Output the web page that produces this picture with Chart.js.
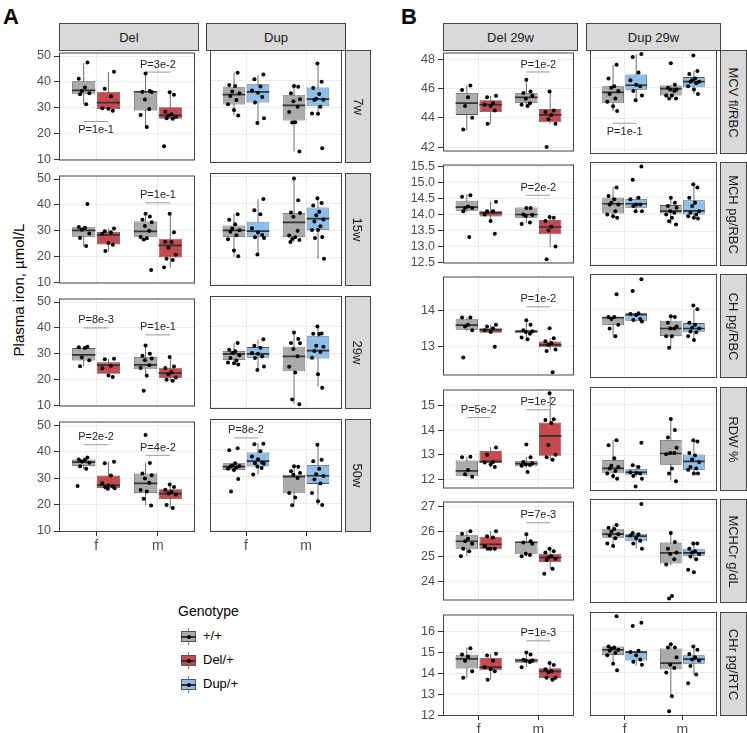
<!DOCTYPE html>
<html>
<head>
<meta charset="utf-8">
<script src="https://cdn.jsdelivr.net/npm/chart.js@4.4.1/dist/chart.umd.min.js"></script>
<style>
body { margin: 0; background: #fff; width: 747px; height: 733px; overflow: hidden; position: relative;
       font-family: 'Liberation Sans', Arial, sans-serif; }
.strip { position: absolute; background: #d9d9d9; border: 1px solid #444; box-sizing: border-box; color: #1a1a1a;
         font-size: 13px; display: flex; align-items: center; justify-content: center; white-space: nowrap; }
.strip.side span { transform: rotate(90deg); }
.tag { position: absolute; font-weight: bold; font-size: 22px; color: #000; }
.txt { position: absolute; color: #000; white-space: nowrap; }
</style>
</head>
<body>
<div class="tag" style="left:3px;top:4px">A</div>
<div class="tag" style="left:401px;top:4px">B</div>
<div class="txt" style="left:18px;top:290px;font-size:15px;transform:translate(-50%,-50%) rotate(-90deg)">Plasma iron, µmol/L</div>
<div class="txt" style="left:178px;top:603px;font-size:14px">Genotype</div>

<script>
Chart.defaults.font.family = "'Liberation Sans', Arial, sans-serif";

const SEX = ['f', 'm'];
const GENO = ['+/+', 'Del/+', 'Dup/+'];
const FILL = { '+/+': '#ababab', 'Del/+': '#c5494e', 'Dup/+': '#8cbfe9' };

// panel A: plasma iron
const A_ROWS = ['7w', '15w', '29w', '50w'];
const A_COLS = ['Del', 'Dup'];
const A_TICKS = [10, 20, 30, 40, 50];
const A_YLIM = [9.63, 51.37];

// panel B: red cell indices at 29w
const B_ROWS = ['MCV fl/RBC', 'MCH pg/RBC', 'CH pg/RBC', 'RDW %', 'MCHCr g/dL', 'CHr pg/RTC'];
const B_COLS = ['Del 29w', 'Dup 29w'];
const B_TICKS = [[42, 44, 46, 48], [12.5, 13, 13.5, 14, 14.5, 15, 15.5], [13, 14], [12, 13, 14, 15], [24, 25, 26, 27], [12, 13, 14, 15, 16]];
const B_DEC = [0, 1, 0, 0, 0, 0];
const B_YLIM = [[41.7, 48.46], [12.47, 15.56], [12.21, 14.92], [11.62, 15.67], [23.23, 27.19], [11.98, 16.8]];

// boxes: [lower whisker, q1, median, q3, upper whisker], order f +/+, f mut, m +/+, m mut
const ironDel7wBox = [[31.4, 35.2, 36.7, 40.3, 47.3], [28.9, 29.5, 32.0, 36.2, 43.8], [22.7, 29.0, 36.2, 36.5, 43.4], [25.8, 25.8, 27.1, 30.2, 36.3]];
const ironDel7wPts = [[47.5, 41.2, 37.8, 36.5, 35.6, 35.2, 31.4], [43.9, 37.4, 34.5, 29.8, 29.6, 28.9], [43.3, 36.5, 36.2, 36.1, 33.2, 29.5, 27.2, 22.6], [36.0, 35.0, 28.5, 27.5, 27.0, 26.5, 26.0, 25.8, 15.1]];
const ironDel7wP = [[1, 24.7, 'P=1e-1', 'below'], [2, 43.8, 'P=3e-2', 'above']];
const ironDup7wBox = [[27.2, 31.2, 34.9, 37.6, 43.0], [24.4, 32.0, 35.9, 38.7, 42.1], [13.9, 25.3, 30.9, 34.7, 38.2], [27.9, 30.6, 33.2, 37.5, 46.4]];
const ironDup7wPts = [[43.0, 38.4, 38.1, 36.0, 35.4, 34.4, 32.9, 31.3, 29.2, 27.2], [42.3, 40.6, 37.9, 36.4, 35.6, 34.0, 32.0, 26.2, 24.4], [38.1, 37.8, 35.4, 33.2, 32.4, 30.4, 28.5, 24.7, 24.6, 13.9], [46.4, 39.6, 37.3, 35.1, 33.4, 33.0, 32.9, 30.4, 27.9, 27.8, 15.1]];
const ironDup7wP = [];

const ironDel15wBox = [[24.0, 27.7, 30.2, 31.4, 31.5], [22.0, 24.7, 28.4, 29.6, 30.9], [26.3, 27.7, 29.8, 33.6, 36.7], [15.8, 19.7, 24.4, 26.9, 36.7]];
const ironDel15wPts = [[40.4, 31.5, 31.2, 30.4, 29.0, 27.2, 24.1], [30.9, 29.8, 29.4, 28.9, 25.3, 24.6, 22.2], [36.6, 35.5, 34.3, 33.3, 31.9, 30.0, 27.6, 27.1, 26.6, 14.8], [36.6, 29.4, 25.8, 25.7, 23.4, 20.7, 19.2, 18.7, 15.8]];
const ironDel15wP = [[2, 40.8, 'P=1e-1', 'above']];
const ironDup15wBox = [[20.4, 27.7, 30.2, 32.0, 36.3], [21.3, 27.8, 29.9, 33.4, 41.7], [25.8, 27.7, 33.1, 36.6, 49.3], [19.7, 30.3, 34.5, 38.6, 42.0]];
const ironDup15wPts = [[36.1, 34.1, 32.4, 30.9, 30.2, 29.7, 28.4, 26.9, 22.7, 20.6], [41.8, 37.6, 36.1, 31.0, 29.4, 28.5, 27.6, 27.4, 21.3], [49.3, 41.3, 36.8, 36.6, 35.2, 30.0, 28.3, 27.6, 27.0, 26.6, 25.9], [42.0, 40.3, 39.4, 37.1, 35.8, 34.2, 33.5, 31.7, 30.3, 30.3, 27.7, 27.4, 19.7]];
const ironDup15wP = [];

const ironDel29wBox = [[25.2, 27.4, 29.6, 32.2, 32.7], [20.9, 22.3, 25.6, 26.7, 28.1], [21.5, 24.0, 25.7, 28.8, 33.2], [19.4, 20.6, 22.5, 24.6, 29.0]];
const ironDel29wPts = [[32.7, 32.5, 32.2, 28.6, 27.5, 25.2], [28.1, 27.9, 25.4, 24.4, 21.6, 21.0], [33.2, 30.0, 29.2, 28.2, 27.5, 25.6, 24.5, 21.5, 15.7], [28.8, 25.1, 24.5, 22.9, 22.0, 20.8, 20.0, 19.6]];
const ironDel29wP = [[1, 40.0, 'P=8e-3', 'above'], [2, 37.3, 'P=1e-1', 'above']];
const ironDup29wBox = [[26.0, 27.7, 30.0, 31.1, 34.0], [24.0, 28.6, 30.0, 32.5, 35.4], [11.4, 23.6, 29.1, 32.6, 37.9], [17.9, 28.3, 31.2, 36.5, 40.1]];
const ironDup29wPts = [[34.0, 31.5, 31.0, 30.3, 29.5, 28.5, 27.5, 26.8, 26.5, 26.1], [35.4, 33.0, 32.3, 30.3, 30.0, 29.0, 28.5, 25.3, 24.0], [37.9, 35.5, 34.0, 33.9, 31.8, 29.1, 25.2, 23.1, 13.1, 11.4], [40.1, 37.5, 37.4, 37.3, 33.0, 32.6, 31.1, 30.7, 28.6, 22.5, 17.5]];
const ironDup29wP = [];

const ironDel50wBox = [[33.5, 34.5, 36.0, 37.0, 37.8], [26.0, 26.2, 27.3, 31.0, 36.2], [19.6, 24.3, 28.0, 31.7, 35.7], [18.7, 22.1, 24.1, 25.8, 27.6]];
const ironDel50wPts = [[37.8, 37.0, 36.8, 36.3, 35.8, 34.5, 33.5, 27.0], [36.2, 35.6, 31.0, 28.0, 27.2, 26.8, 26.5, 26.2, 26.0], [46.3, 35.7, 31.7, 31.1, 29.8, 28.2, 25.5, 24.9, 22.2, 19.6], [27.6, 26.6, 25.6, 24.8, 24.2, 23.8, 19.8, 18.7]];
const ironDel50wP = [[1, 42.6, 'P=2e-2', 'above'], [2, 38.6, 'P=4e-2', 'above']];
const ironDup50wBox = [[32.5, 32.5, 33.8, 35.0, 35.0], [30.8, 33.8, 35.8, 39.0, 42.5], [19.5, 23.9, 30.1, 30.8, 33.9], [19.6, 27.4, 30.4, 34.4, 41.9]];
const ironDup50wPts = [[40.6, 39.8, 35.0, 34.2, 34.0, 33.8, 33.5, 33.0, 32.5, 29.2, 24.6], [42.2, 42.0, 39.5, 37.5, 36.5, 35.3, 35.0, 34.8, 33.8, 33.3, 30.9], [33.9, 33.7, 32.1, 31.4, 30.8, 29.6, 24.0, 22.4, 19.5], [41.9, 36.3, 35.8, 33.0, 31.0, 30.3, 29.0, 27.5, 24.0, 21.0, 19.6]];
const ironDup50wP = [[1, 44.4, 'P=8e-2', 'above']];

const mcvDelBox = [[43.15, 44.2, 45.0, 45.7, 46.2], [43.6, 44.4, 44.9, 45.2, 45.5], [44.8, 45.0, 45.4, 45.7, 46.6], [43.6, 43.7, 44.2, 44.6, 45.8]];
const mcvDelPts = [[46.2, 45.9, 45.4, 44.8, 44.0, 43.2], [45.5, 45.4, 45.0, 44.9, 44.8, 44.5, 43.6], [46.6, 45.8, 45.7, 45.5, 45.3, 45.0, 44.9, 44.8], [45.8, 44.5, 44.4, 44.2, 43.9, 43.6, 42.0]];
const mcvDelP = [[2, 47.13, 'P=1e-2', 'above']];
const mcvDupBox = [[44.5, 45.0, 45.7, 46.1, 47.5], [45.2, 45.87, 46.17, 46.87, 48.2], [45.28, 45.5, 45.95, 46.15, 46.2], [45.6, 46.04, 46.4, 46.7, 47.1]];
const mcvDupPts = [[47.5, 46.6, 46.1, 46.0, 45.8, 45.6, 45.3, 45.1, 44.8, 44.5], [48.2, 48.0, 47.0, 46.5, 46.2, 46.1, 45.8, 45.5, 45.2], [47.6, 46.2, 46.0, 45.9, 45.9, 45.8, 45.5, 45.5, 45.3, 45.3], [48.1, 47.1, 46.9, 46.6, 46.5, 46.4, 46.4, 46.3, 46.1, 45.9, 45.6]];
const mcvDupP = [[1, 43.7, 'P=1e-1', 'below']];

const mchDelBox = [[14.08, 14.12, 14.23, 14.43, 14.63], [13.79, 13.94, 14.05, 14.12, 14.41], [13.73, 13.9, 14.0, 14.22, 14.22], [12.98, 13.38, 13.61, 13.83, 13.92]];
const mchDelPts = [[14.6, 14.55, 14.25, 14.2, 14.2, 14.1, 13.3], [14.4, 14.1, 14.1, 14.0, 13.8, 13.4], [14.2, 14.2, 14.0, 13.98, 13.95, 13.75, 13.7], [13.92, 13.9, 13.8, 13.62, 13.5, 13.0, 12.6]];
const mchDelP = [[2, 14.6, 'P=2e-2', 'above']];
const mchDupBox = [[13.88, 14.03, 14.32, 14.5, 14.82], [14.1, 14.2, 14.32, 14.46, 14.52], [13.71, 14.03, 14.1, 14.28, 14.53], [13.88, 14.0, 14.11, 14.42, 14.91]];
const mchDupPts = [[14.8, 14.55, 14.45, 14.35, 14.3, 14.3, 14.1, 14.0, 13.95, 13.9], [15.43, 15.03, 14.5, 14.45, 14.3, 14.3, 14.25, 14.1, 14.1], [14.5, 14.35, 14.25, 14.2, 14.1, 14.05, 14.0, 13.9, 13.8, 13.7], [14.9, 14.8, 14.5, 14.35, 14.25, 14.1, 14.05, 14.0, 13.95, 13.9, 13.88]];
const mchDupP = [];

const chDelBox = [[13.42, 13.46, 13.59, 13.75, 13.8], [13.38, 13.38, 13.46, 13.5, 13.6], [13.2, 13.38, 13.42, 13.45, 13.72], [12.92, 12.98, 13.05, 13.14, 13.23]];
const chDelPts = [[13.8, 13.8, 13.6, 13.55, 13.45, 12.7], [13.6, 13.55, 13.5, 13.45, 13.4, 13.0], [13.72, 13.6, 13.45, 13.42, 13.4, 13.35, 13.25, 13.2], [13.5, 13.23, 13.15, 13.1, 13.05, 12.92, 12.88, 12.3]];
const chDelP = [[2, 14.09, 'P=1e-2', 'above']];
const chDupBox = [[13.3, 13.59, 13.78, 13.81, 13.81], [13.68, 13.7, 13.86, 13.9, 13.9], [13.0, 13.3, 13.5, 13.7, 13.82], [13.2, 13.4, 13.5, 13.64, 14.0]];
const chDupPts = [[14.39, 13.8, 13.8, 13.75, 13.6, 13.5, 13.3], [14.78, 14.48, 13.9, 13.88, 13.85, 13.75, 13.72, 13.68], [13.82, 13.8, 13.65, 13.55, 13.5, 13.5, 13.3, 13.3, 13.0], [14.1, 14.0, 13.65, 13.6, 13.52, 13.5, 13.42, 13.4, 13.3, 13.2]];
const chDupP = [];

const rdwDelBox = [[12.08, 12.12, 12.34, 12.77, 12.92], [12.48, 12.66, 12.73, 13.16, 13.32], [12.47, 12.53, 12.64, 12.75, 12.92], [12.79, 12.96, 13.77, 14.32, 15.52]];
const rdwDelPts = [[12.92, 12.9, 12.38, 12.2, 12.1], [13.3, 13.0, 12.7, 12.68, 12.6, 12.5], [13.42, 12.9, 12.7, 12.65, 12.6, 12.58, 12.55, 12.3], [15.52, 14.45, 14.42, 14.3, 13.4, 13.0, 12.9, 12.8]];
const rdwDelP = [[1, 14.52, 'P=5e-2', 'above'], [2, 14.84, 'P=1e-2', 'above']];
const rdwDupBox = [[12.08, 12.31, 12.5, 12.83, 13.61], [12.18, 12.23, 12.35, 12.47, 12.64], [12.03, 12.64, 13.08, 13.61, 14.42], [12.29, 12.44, 12.77, 13.04, 13.61]];
const rdwDupPts = [[13.6, 13.4, 12.9, 12.6, 12.55, 12.5, 12.4, 12.3, 12.2, 12.1], [13.5, 12.62, 12.55, 12.35, 12.32, 12.3, 12.2, 12.1, 11.8], [14.42, 14.0, 13.7, 13.3, 13.1, 13.1, 13.05, 12.5, 12.3, 12.0], [13.6, 13.55, 13.1, 13.0, 12.85, 12.75, 12.55, 12.5, 12.45, 12.3, 12.3]];
const rdwDupP = [];

const mchcrDelBox = [[25.0, 25.28, 25.6, 25.84, 26.0], [25.28, 25.28, 25.48, 25.78, 26.0], [25.0, 25.08, 25.56, 25.58, 25.87], [24.48, 24.77, 24.95, 25.1, 25.3]];
const mchcrDelPts = [[26.0, 25.9, 25.7, 25.6, 25.5, 25.3, 25.2, 25.0], [26.0, 25.8, 25.75, 25.4, 25.3, 25.3, 25.3], [25.88, 25.6, 25.55, 25.5, 25.1, 25.05, 25.0], [25.3, 25.2, 25.15, 25.0, 24.95, 24.9, 24.85, 24.5, 24.3]];
const mchcrDelP = [[2, 26.34, 'P=7e-3', 'above']];
const mchcrDupBox = [[25.37, 25.71, 25.85, 26.06, 26.21], [25.3, 25.58, 25.78, 25.87, 25.9], [24.67, 24.73, 25.14, 25.53, 25.9], [24.9, 25.03, 25.14, 25.3, 25.5]];
const mchcrDupPts = [[26.2, 26.1, 26.05, 25.95, 25.85, 25.8, 25.7, 25.5, 25.4], [27.0, 25.9, 25.85, 25.8, 25.7, 25.6, 25.5, 25.3], [25.9, 25.55, 25.3, 25.15, 25.1, 24.9, 24.7, 23.5, 23.4], [25.5, 25.5, 25.3, 25.2, 25.15, 25.1, 25.0, 24.9, 24.5, 24.4]];
const mchcrDupP = [];

const chrDelBox = [[13.78, 14.23, 14.69, 14.89, 15.23], [13.7, 14.15, 14.3, 14.74, 14.94], [14.3, 14.51, 14.62, 14.71, 15.02], [13.7, 13.78, 14.1, 14.25, 14.55]];
const chrDelPts = [[15.2, 14.9, 14.8, 14.6, 14.1, 13.8], [14.94, 14.85, 14.6, 14.3, 14.2, 14.1, 13.7], [15.0, 14.9, 14.65, 14.62, 14.6, 14.55, 14.3], [14.5, 14.4, 14.2, 14.1, 14.05, 13.8, 13.8, 13.7]];
const chrDelP = [[2, 15.55, 'P=1e-3', 'above']];
const chrDupBox = [[14.4, 14.8, 15.05, 15.2, 15.2], [14.32, 14.55, 14.94, 14.97, 14.97], [12.9, 14.15, 14.43, 15.11, 15.3], [13.9, 14.4, 14.62, 14.8, 15.2]];
const chrDupPts = [[16.6, 15.2, 15.15, 15.1, 15.05, 15.0, 14.9, 14.8, 14.4, 14.1], [16.3, 16.15, 15.0, 14.95, 14.8, 14.6, 14.5, 14.35], [15.3, 15.15, 15.15, 14.7, 14.35, 14.2, 14.0, 12.9, 12.2], [15.2, 15.05, 14.85, 14.7, 14.6, 14.55, 14.3, 13.9, 13.5]];
const chrDupP = [];

const A_PANELS = [
    [[ironDel7wBox, ironDel7wPts, ironDel7wP], [ironDup7wBox, ironDup7wPts, ironDup7wP]],
    [[ironDel15wBox, ironDel15wPts, ironDel15wP], [ironDup15wBox, ironDup15wPts, ironDup15wP]],
    [[ironDel29wBox, ironDel29wPts, ironDel29wP], [ironDup29wBox, ironDup29wPts, ironDup29wP]],
    [[ironDel50wBox, ironDel50wPts, ironDel50wP], [ironDup50wBox, ironDup50wPts, ironDup50wP]]
];
const B_PANELS = [
    [[mcvDelBox, mcvDelPts, mcvDelP], [mcvDupBox, mcvDupPts, mcvDupP]],
    [[mchDelBox, mchDelPts, mchDelP], [mchDupBox, mchDupPts, mchDupP]],
    [[chDelBox, chDelPts, chDelP], [chDupBox, chDupPts, chDupP]],
    [[rdwDelBox, rdwDelPts, rdwDelP], [rdwDupBox, rdwDupPts, rdwDupP]],
    [[mchcrDelBox, mchcrDelPts, mchcrDelP], [mchcrDupBox, mchcrDupPts, mchcrDupP]],
    [[chrDelBox, chrDelPts, chrDelP], [chrDupBox, chrDupPts, chrDupP]]
];

const BOX_X = [0.8, 1.2, 1.8, 2.2];
const HALF = 0.1875;
const JIT = [0.06, -0.08, 0.02, -0.03, 0.09, -0.06, 0.04, -0.1, 0.0, 0.07, -0.05, 0.1, -0.01];
const PAD = 8;

const framePlugin = {
    id: 'frame',
    afterDraw(chart) {
        const a = chart.chartArea, ctx = chart.ctx;
        ctx.save();
        ctx.strokeStyle = '#444';
        ctx.lineWidth = 1;
        ctx.strokeRect(a.left + 0.5, a.top + 0.5, a.right - a.left - 1, a.bottom - a.top - 1);
        ctx.restore();
    }
};

function drawPanel(o) {
    const W = o.yw + o.w, H = o.h + 2 * PAD + o.xh;
    const cv = document.createElement('canvas');
    cv.width = W; cv.height = H;
    cv.style.cssText = `position:absolute;left:${o.left - o.yw}px;top:${o.top - PAD}px;width:${W}px;height:${H}px`;
    document.body.appendChild(cv);

    const [box, pts, pv] = o.data;
    const fills = [FILL['+/+'], FILL[o.mut], FILL['+/+'], FILL[o.mut]];
    const whisk = [], meds = [], dots = [], plines = [];
    box.forEach((b, i) => {
        const x = BOX_X[i];
        whisk.push({ x, y: b[0] }, { x, y: b[4] }, { x, y: null });
        meds.push({ x: x - HALF, y: b[2] }, { x: x + HALF, y: b[2] }, { x, y: null });
        pts[i].forEach((v, j) => dots.push({ x: x + JIT[(j + 4 * i) % JIT.length], y: v }));
    });
    pv.forEach(p => plines.push({ x: p[0] - 0.2, y: p[1] }, { x: p[0] + 0.2, y: p[1] }, { x: p[0], y: null }));

    const pvPlugin = {
        id: 'pv',
        afterDatasetsDraw(chart) {
            const ctx = chart.ctx, xs = chart.scales.x, ys = chart.scales.y;
            ctx.save();
            ctx.font = "11px 'Liberation Sans', Arial, sans-serif";
            ctx.fillStyle = '#222';
            ctx.textAlign = 'center';
            pv.forEach(p => {
                const px = xs.getPixelForValue(p[0]), py = ys.getPixelForValue(p[1]);
                if (p[3] === 'above') { ctx.textBaseline = 'bottom'; ctx.fillText(p[2], px, py - 2); }
                else { ctx.textBaseline = 'top'; ctx.fillText(p[2], px, py + 3); }
            });
            ctx.restore();
        }
    };

    const tickFont = { size: 12.5 };
    new Chart(cv, {
        type: 'bar',
        data: {
            datasets: [
                { type: 'line', data: whisk, borderColor: '#6e6e6e', borderWidth: 1, pointRadius: 0, order: 4 },
                { type: 'line', data: plines, borderColor: '#9a9a9a', borderWidth: 1, pointRadius: 0, order: 3 },
                {
                    type: 'bar', data: BOX_X.map((x, i) => ({ x, y: [box[i][1], box[i][3]] })),
                    backgroundColor: fills, borderColor: '#555', borderWidth: 0.8, borderSkipped: false,
                    categoryPercentage: 1, barPercentage: 0.9375, order: 2
                },
                { type: 'line', data: meds, borderColor: '#333', borderWidth: 1.7, pointRadius: 0, order: 1 },
                { type: 'scatter', data: dots, backgroundColor: '#000', borderWidth: 0, pointRadius: 2, order: 0 }
            ]
        },
        options: {
            responsive: false,
            animation: false,
            events: [],
            layout: { padding: { top: PAD, bottom: PAD, left: 0, right: 0 } },
            plugins: { legend: { display: false }, tooltip: { enabled: false } },
            scales: {
                x: {
                    type: 'linear', min: 0.4, max: 2.6, offset: false,
                    afterBuildTicks: s => { s.ticks = [{ value: 1 }, { value: 2 }]; },
                    afterFit: s => { s.height = o.xh; },
                    grid: { offset: false, color: '#ebebeb', drawTicks: o.xh > 0, tickLength: 4, tickColor: '#333' },
                    border: { display: false },
                    ticks: { display: o.xh > 0, autoSkip: false, maxRotation: 0, padding: 2, color: '#4d4d4d', font: { size: 14 },
                             callback: v => SEX[Math.round(v) - 1] }
                },
                y: {
                    type: 'linear', min: o.ylim[0], max: o.ylim[1], beginAtZero: false,
                    afterBuildTicks: s => { s.ticks = o.ticks.map(v => ({ value: v })); },
                    afterFit: s => { s.width = o.yw; },
                    grid: { color: '#ebebeb', drawTicks: o.yw > 0, tickLength: 5, tickColor: '#333' },
                    border: { display: false },
                    ticks: { display: o.yw > 0, autoSkip: false, padding: 3, color: '#4d4d4d', font: tickFont,
                             callback: v => v.toFixed(o.dec) }
                }
            }
        },
        plugins: [framePlugin, pvPlugin]
    });
}

function strip(text, left, top, w, h, side) {
    const d = document.createElement('div');
    d.className = 'strip' + (side ? ' side' : '');
    d.style.cssText = `left:${left}px;top:${top}px;width:${w}px;height:${h}px`;
    const s = document.createElement('span');
    s.textContent = text;
    d.appendChild(s);
    document.body.appendChild(d);
}

// panel A layout
const A_LEFT = [59, 206], A_TOP = [50, 173, 296, 419], A_W = 140, A_H = 113;
A_ROWS.forEach((row, r) => {
    A_COLS.forEach((col, c) => {
        drawPanel({
            left: A_LEFT[c], top: A_TOP[r], w: A_W, h: A_H,
            yw: c === 0 ? 39 : 0, xh: r === A_ROWS.length - 1 ? 20 : 0,
            ylim: A_YLIM, ticks: A_TICKS, dec: 0,
            mut: col === 'Del' ? 'Del/+' : 'Dup/+',
            data: A_PANELS[r][c]
        });
    });
});
A_COLS.forEach((col, c) => strip(col, A_LEFT[c], 23, A_W, 28, false));
A_ROWS.forEach((row, r) => strip(row, A_LEFT[1] + A_W - 1, A_TOP[r], 26, A_H, true));

// panel B layout
const B_LEFT = [443, 586], B_TOP = [50, 162, 274, 387, 499, 612], B_W = 135, B_H = 104;
B_ROWS.forEach((row, r) => {
    B_COLS.forEach((col, c) => {
        drawPanel({
            left: B_LEFT[c], top: B_TOP[r], w: B_W, h: B_H,
            yw: c === 0 ? 45 : 0, xh: r === B_ROWS.length - 1 ? 20 : 0,
            ylim: B_YLIM[r], ticks: B_TICKS[r], dec: B_DEC[r],
            mut: c === 0 ? 'Del/+' : 'Dup/+',
            data: B_PANELS[r][c]
        });
    });
});
B_COLS.forEach((col, c) => strip(col, B_LEFT[c], 23, B_W, 28, false));
B_ROWS.forEach((row, r) => strip(row, B_LEFT[1] + B_W - 1, B_TOP[r], 27, B_H, true));

// legend
GENO.forEach((g, i) => {
    const top = 628 + i * 24;
    const key = document.createElement('div');
    key.style.cssText = `position:absolute;left:180px;top:${top}px;width:17px;height:17px`;
    key.innerHTML =
        `<div style="position:absolute;left:8px;top:0;width:1px;height:17px;background:#6e6e6e"></div>` +
        `<div style="position:absolute;left:1px;top:3px;width:15px;height:11px;box-sizing:border-box;border:1px solid #555;background:${FILL[g]}"></div>` +
        `<div style="position:absolute;left:1px;top:8px;width:15px;height:2px;background:#333"></div>` +
        `<div style="position:absolute;left:6.5px;top:6.5px;width:4px;height:4px;border-radius:50%;background:#000"></div>`;
    document.body.appendChild(key);
    const lab = document.createElement('div');
    lab.className = 'txt';
    lab.style.cssText = `left:203px;top:${top}px;font-size:13px`;
    lab.textContent = g;
    document.body.appendChild(lab);
});
</script>
</body>
</html>
